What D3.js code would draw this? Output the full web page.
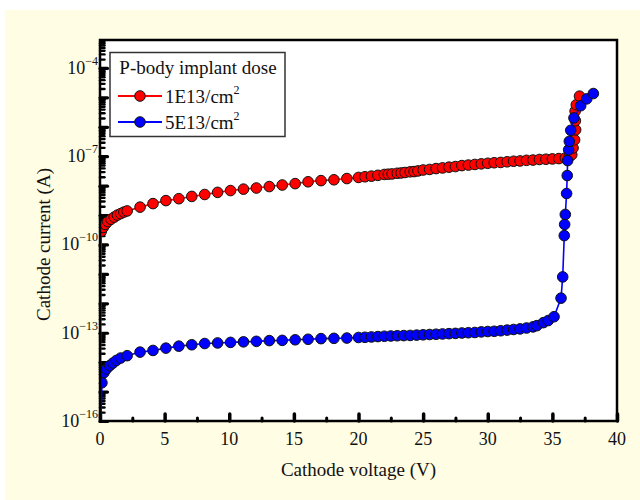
<!DOCTYPE html>
<html>
<head>
<meta charset="utf-8">
<script src="https://cdn.jsdelivr.net/npm/d3@7"></script>
<style>
  html, body { margin: 0; padding: 0; background: #ffffff; }
  svg { display: block; }
  text { font-family: "Liberation Serif", "Times New Roman", serif; fill: #111; }
</style>
</head>
<body>
<svg id="chart" width="640" height="500"></svg>
<script>
// Cathode I–V sweeps for two P-body implant doses
const seriesNames = ["1E13/cm", "5E13/cm"];

const voltageLow = [0, 0.1, 0.25, 0.4, 0.6, 0.85, 1.1, 1.35, 1.6, 1.85, 2.1, 3.1, 4.1, 5.1, 6.1, 7.1, 8.1, 9.1,
  10.1, 11.1, 12.1, 13.1, 14.1, 15.1, 16.1, 17.1, 18.1, 19.1, 20.0, 20.5, 21.0, 21.5, 22.0, 22.3, 22.6,
  23.0, 23.3, 23.6, 24.0, 24.3, 24.6, 25.0, 25.5, 26.0, 26.5, 27.0, 27.5, 28.0, 28.5, 29.0, 29.5, 30.0,
  30.5, 31.0, 31.5, 32.0, 32.5, 33.0, 33.5, 34.0, 34.5, 35.0, 35.5, 36.0, 36.3, 36.5, 36.6, 36.72, 36.8,
  36.78, 36.76, 36.85, 37.1];
const currentLow = [1e-17, 2.8e-10, 3.8e-10, 4.8e-10, 6.0e-10, 7.2e-10, 8.5e-10, 1.0e-9, 1.12e-9, 1.26e-9,
  1.38e-9, 1.86e-9, 2.45e-9, 3.1e-9, 3.6e-9, 4.3e-9, 5.0e-9, 5.9e-9, 6.8e-9, 7.6e-9, 8.3e-9, 9.3e-9,
  1.05e-8, 1.17e-8, 1.35e-8, 1.48e-8, 1.58e-8, 1.74e-8, 1.9e-8, 2.0e-8, 2.1e-8, 2.24e-8, 2.4e-8, 2.45e-8,
  2.5e-8, 2.63e-8, 2.7e-8, 2.8e-8, 2.95e-8, 3.0e-8, 3.16e-8, 3.4e-8, 3.55e-8, 3.8e-8, 4.0e-8, 4.25e-8,
  4.45e-8, 4.8e-8, 5.0e-8, 5.25e-8, 5.5e-8, 5.75e-8, 6.0e-8, 6.15e-8, 6.45e-8, 6.75e-8, 6.9e-8, 7.25e-8,
  7.4e-8, 7.75e-8, 7.9e-8, 8.1e-8, 8.3e-8, 8.7e-8, 9.5e-8, 1.12e-7, 1.9e-7, 3.6e-7, 7.9e-7, 1.6e-6,
  3.4e-6, 5.6e-6, 1.1e-5];

const voltageHigh = [0, 0.15, 0.3, 0.5, 0.75, 1.0, 1.28, 1.6, 2.1, 3.1, 4.1, 5.1, 6.1, 7.1, 8.1, 9.1, 10.1,
  11.1, 12.1, 13.1, 14.1, 15.1, 16.1, 17.1, 18.1, 19.1, 20.0, 20.5, 21.0, 21.5, 22.0, 22.5, 23.0, 23.5,
  24.0, 24.5, 25.0, 25.5, 26.0, 26.5, 27.0, 27.5, 28.0, 28.5, 29.0, 29.5, 30.0, 30.5, 31.0, 31.5, 32.0,
  32.5, 33.0, 33.5, 33.8, 34.3, 34.68, 35.13, 35.67, 35.8, 35.92, 35.95, 36.0, 36.1, 36.15, 36.18, 36.26,
  36.31, 36.42, 36.67, 37.19, 37.66, 38.17];
const currentHigh = [1e-17, 2.0e-15, 4.4e-15, 5.9e-15, 7.6e-15, 9.3e-15, 1.15e-14, 1.38e-14, 1.66e-14,
  2.2e-14, 2.5e-14, 3.0e-14, 3.5e-14, 3.9e-14, 4.3e-14, 4.5e-14, 4.7e-14, 4.9e-14, 5.1e-14, 5.4e-14,
  5.5e-14, 5.75e-14, 6.0e-14, 6.3e-14, 6.45e-14, 6.6e-14, 6.9e-14, 7.0e-14, 7.2e-14, 7.4e-14, 7.6e-14,
  7.75e-14, 7.9e-14, 8.0e-14, 8.1e-14, 8.3e-14, 8.5e-14, 8.7e-14, 8.9e-14, 9.1e-14, 9.3e-14, 9.5e-14,
  9.8e-14, 1.0e-13, 1.02e-13, 1.07e-13, 1.1e-13, 1.12e-13, 1.17e-13, 1.23e-13, 1.29e-13, 1.35e-13,
  1.45e-13, 1.58e-13, 1.74e-13, 2.2e-13, 2.6e-13, 3.5e-13, 1.5e-12, 7.9e-12, 2.0e-10, 4.8e-10, 1.05e-9,
  5.4e-9, 2.2e-8, 7.1e-8, 1.66e-7, 3.2e-7, 7.6e-7, 2.0e-6, 5.2e-6, 8.9e-6, 1.35e-5];

const xTicks = [0, 5, 10, 15, 20, 25, 30, 35, 40];
const xMinorTicks = [2.5, 7.5, 12.5, 17.5, 22.5, 27.5, 32.5, 37.5];
const yLabelExponents = [-16, -13, -10, -7, -4];

const seriesColors = ["#ff0000", "#0000ff"];

const svg = d3.select("#chart");
const W = 640, H = 500;
const plot = { left: 100, right: 617, top: 40, bottom: 421 };

// page background
svg.append("rect").attr("x", 0).attr("y", 0).attr("width", W).attr("height", H).attr("fill", "#ffffff");
svg.append("rect").attr("x", 5).attr("y", 10).attr("width", W - 5).attr("height", H - 10).attr("fill", "#fffde3");
svg.append("rect").attr("x", plot.left).attr("y", plot.top)
  .attr("width", plot.right - plot.left).attr("height", plot.bottom - plot.top).attr("fill", "#ffffff");

const x = d3.scaleLinear().domain([0, 40]).range([plot.left, plot.right]);
const y = d3.scaleLog().domain([1e-16, Math.pow(10, -3.05)]).range([plot.bottom, plot.top]);

svg.append("defs").append("clipPath").attr("id", "plotClip")
  .append("rect").attr("x", plot.left).attr("y", plot.top)
  .attr("width", plot.right - plot.left).attr("height", plot.bottom - plot.top);

// y ticks: every decade plus minor ticks, drawn inward
const yMajor = d3.range(-16, -2).map(e => Math.pow(10, e));
const yMinor = [];
d3.range(-16, -3).forEach(e => { for (let m = 2; m <= 9; m++) yMinor.push(m * Math.pow(10, e)); });

const yAxisMinor = d3.axisRight(y).tickValues(yMinor.filter(v => v <= y.domain()[1])).tickSize(4.5).tickFormat("");
const yAxisMajor = d3.axisRight(y).tickValues(yMajor.filter(v => v <= y.domain()[1])).tickSize(7.5).tickFormat("");
[yAxisMinor, yAxisMajor].forEach((ax, i) => {
  const g = svg.append("g").attr("transform", `translate(${plot.left},0)`).call(ax);
  g.select(".domain").remove();
  g.selectAll("line").attr("stroke", "#000").attr("stroke-width", i === 0 ? 2.4 : 3.2).attr("stroke-linecap", "round");
});

// x ticks, inward from the bottom
const xAxisMinor = d3.axisTop(x).tickValues(xMinorTicks).tickSize(3).tickFormat("");
const xAxisMajor = d3.axisTop(x).tickValues(xTicks).tickSize(7).tickFormat("");
[xAxisMinor, xAxisMajor].forEach((ax, i) => {
  const g = svg.append("g").attr("transform", `translate(0,${plot.bottom})`).call(ax);
  g.select(".domain").remove();
  g.selectAll("line").attr("stroke", "#000").attr("stroke-width", i === 0 ? 3 : 3.5).attr("stroke-linecap", "round");
});

// x tick labels
svg.append("g").selectAll("text").data(xTicks).join("text")
  .attr("x", d => x(d)).attr("y", plot.bottom + 24)
  .attr("text-anchor", "middle").attr("font-size", 18).text(d => d);

// y tick labels with superscript exponents
const yl = svg.append("g").selectAll("text").data(yLabelExponents).join("text")
  .attr("x", plot.left - 2).attr("y", d => y(Math.pow(10, d)) + 6)
  .attr("text-anchor", "end").attr("font-size", 18);
yl.append("tspan").text("10");
yl.append("tspan").attr("dy", -9).attr("font-size", 12).text(d => "\u2212" + Math.abs(d));

// axis titles
svg.append("text").attr("x", (plot.left + plot.right) / 2).attr("y", 476)
  .attr("text-anchor", "middle").attr("font-size", 19).text("Cathode voltage (V)");
svg.append("text").attr("transform", `translate(50,${(plot.top + plot.bottom) / 2 + 14}) rotate(-90)`)
  .attr("text-anchor", "middle").attr("font-size", 19).text("Cathode current (A)");

// curves
const line = d3.line().x(d => x(d[0])).y(d => y(d[1]));
const series = [
  d3.zip(voltageLow, currentLow),
  d3.zip(voltageHigh, currentHigh)
];
const dataG = svg.append("g").attr("clip-path", "url(#plotClip)");
series.forEach((pts, i) => {
  dataG.append("path").datum(pts).attr("d", line)
    .attr("fill", "none").attr("stroke", seriesColors[i]).attr("stroke-width", 1.6);
  dataG.append("g").selectAll("circle").data(pts).join("circle")
    .attr("cx", d => x(d[0])).attr("cy", d => y(d[1])).attr("r", 5.3)
    .attr("fill", seriesColors[i]).attr("stroke", "#111").attr("stroke-width", 1);
});

// frame
svg.append("rect").attr("x", plot.left).attr("y", plot.top)
  .attr("width", plot.right - plot.left).attr("height", plot.bottom - plot.top)
  .attr("fill", "none").attr("stroke", "#000").attr("stroke-width", 2.5);

// legend
const lg = svg.append("g");
lg.append("rect").attr("x", 110).attr("y", 52.5).attr("width", 175).attr("height", 84)
  .attr("fill", "#ffffff").attr("stroke", "#333").attr("stroke-width", 1.5);
lg.append("text").attr("x", 198).attr("y", 74).attr("text-anchor", "middle")
  .attr("font-size", 19).text("P-body implant dose");
seriesNames.forEach((name, i) => {
  const ly = 96 + i * 26;
  lg.append("line").attr("x1", 118).attr("x2", 162).attr("y1", ly).attr("y2", ly)
    .attr("stroke", seriesColors[i]).attr("stroke-width", 1.8);
  lg.append("circle").attr("cx", 140).attr("cy", ly).attr("r", 5.3)
    .attr("fill", seriesColors[i]).attr("stroke", "#111").attr("stroke-width", 1);
  const t = lg.append("text").attr("x", 165).attr("y", ly + 7).attr("font-size", 19);
  t.append("tspan").text(name);
  t.append("tspan").attr("dy", -9).attr("font-size", 12).text("2");
});
</script>
</body>
</html>
